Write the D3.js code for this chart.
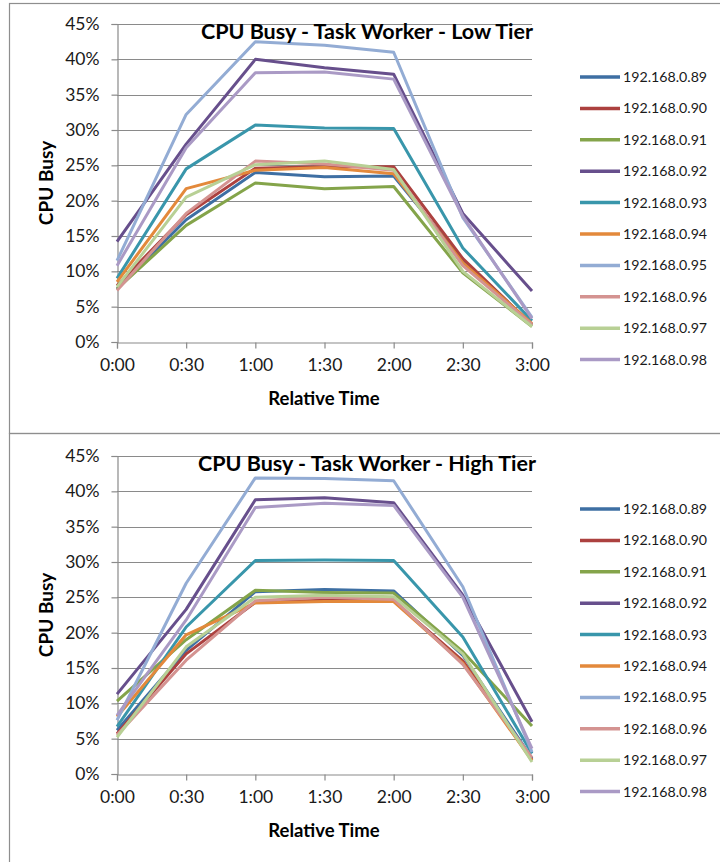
<!DOCTYPE html>
<html>
<head>
<meta charset="utf-8">
<script src="https://cdn.jsdelivr.net/npm/d3@7"></script>
<style>
body{margin:0;background:#fff;}
svg{display:block;}
text{font-family:Lato,"Open Sans",sans-serif;}
</style>
</head>
<body>
<div id="chart"></div>
<script>
//////////////////////データ//////////////////////
var timeLabels=["0:00","0:30","1:00","1:30","2:00","2:30","3:00"];
var hosts=["192.168.0.89","192.168.0.90","192.168.0.91","192.168.0.92","192.168.0.93",
           "192.168.0.94","192.168.0.95","192.168.0.96","192.168.0.97","192.168.0.98"];
var yTicks=[0,5,10,15,20,25,30,35,40,45];
//Low Tier (%)
var lowTier=[
    [7.5,17.3,24.0,23.4,23.5,11.5,2.5],
    [8.0,18.0,24.6,24.8,24.8,11.8,2.4],
    [7.5,16.5,22.5,21.7,22.0,9.8,2.2],
    [14.2,28.0,40.0,38.8,37.9,18.2,7.2],
    [9.0,24.5,30.7,30.3,30.2,13.3,3.0],
    [8.5,21.7,24.3,24.7,23.8,11.2,2.6],
    [11.5,32.2,42.5,42.0,41.0,17.6,3.5],
    [7.3,18.2,25.6,25.2,24.3,10.8,2.5],
    [7.8,20.5,25.1,25.6,24.4,10.0,2.2],
    [10.8,27.5,38.1,38.2,37.2,17.8,3.3]
];
//High Tier (%)
var highTier=[
    [6.2,17.5,25.8,26.1,25.9,16.8,2.2],
    [5.7,17.0,24.3,24.6,24.5,16.0,2.0],
    [10.3,19.0,26.0,25.7,25.6,17.3,6.8],
    [11.3,23.3,38.8,39.1,38.4,25.3,7.4],
    [6.7,20.8,30.2,30.3,30.2,19.4,2.9],
    [8.1,19.7,24.2,24.4,24.4,15.7,1.9],
    [7.6,27.0,41.9,41.8,41.5,26.5,3.1],
    [5.5,16.1,24.5,25.0,24.7,15.5,2.3],
    [5.2,18.0,25.0,25.3,25.1,17.0,1.7],
    [8.3,21.8,37.7,38.3,38.0,25.0,3.6]
];
//色
var lineColor=["#3e6fa3","#ac413f","#84a44a","#674f8c","#3996ab",
               "#e3893b","#93acd4","#d49391","#b8d095","#aa9ac5"];

//////////////////////描画//////////////////////
var W=720,H=862;
var svg=d3.select("#chart").append("svg").attr("width",W).attr("height",H);

var charts=[
    {title:"CPU Busy - Task Worker - Low Tier",data:lowTier,top:0},
    {title:"CPU Busy - Task Worker - High Tier",data:highTier,top:432}
];

charts.forEach(function(c){
    drawChart(c);
});

function drawChart(c){
    var g=svg.append("g").attr("transform","translate(0,"+c.top+")");
    //枠
    g.append("rect")
    .attr("x",9.5).attr("y",c.top==0?3.5:1.5)
    .attr("width",730).attr("height",c.top==0?430:440)
    .attr("fill","none").attr("stroke","#8e8e8e").attr("stroke-width",1.2);

    var xScale=d3.scalePoint().domain(timeLabels).range([117,532]);
    var yScale=d3.scaleLinear().domain([0,45]).range([342,24]);

    //グリッド
    g.append("g").selectAll("line")
    .data(yTicks.slice(1))
    .enter().append("line")
    .attr("x1",117).attr("x2",532)
    .attr("y1",function(d){return Math.round(yScale(d))+0.5;})
    .attr("y2",function(d){return Math.round(yScale(d))+0.5;})
    .attr("stroke","#8a8a8a").attr("stroke-width",1.2);

    //軸
    var yAxis=g.append("g").attr("transform","translate(117.5,0)")
    .call(d3.axisLeft(yScale).tickValues(yTicks).tickSize(6).tickPadding(12)
    .tickFormat(function(d){return d+"%";}));
    var xAxis=g.append("g").attr("transform","translate(0,342.5)")
    .call(d3.axisBottom(xScale).tickSize(6).tickPadding(10));
    [yAxis,xAxis].forEach(function(a){
        a.select(".domain").attr("stroke","#8a8a8a").attr("stroke-width",1.2);
        a.selectAll(".tick line").attr("stroke","#8a8a8a").attr("stroke-width",1.2);
        a.selectAll(".tick text").attr("fill","#1a1a1a").style("font-size","17.5px");
    });

    //系列
    var line=d3.line()
    .x(function(d,i){return xScale(timeLabels[i]);})
    .y(function(d){return yScale(d);});
    c.data.forEach(function(arr,n){
        g.append("path")
        .attr("d",line(arr))
        .attr("fill","none")
        .attr("stroke",lineColor[n])
        .attr("stroke-width",3)
        .attr("stroke-linejoin","round");
    });

    //タイトル
    g.append("text").attr("x",367).attr("y",39)
    .attr("text-anchor","middle").attr("font-weight","bold")
    .style("font-size","21.5px").attr("fill","#000")
    .text(c.title);
    g.append("text").attr("x",324).attr("y",405)
    .attr("text-anchor","middle").attr("font-weight","bold")
    .style("font-size","18.5px").attr("fill","#000")
    .text("Relative Time");
    g.append("text")
    .attr("transform","translate(53,183) rotate(-90)")
    .attr("text-anchor","middle").attr("font-weight","bold")
    .style("font-size","19px").attr("fill","#000")
    .text("CPU Busy");

    //凡例
    var lg=g.append("g").selectAll("g")
    .data(hosts)
    .enter().append("g")
    .attr("transform",function(d,i){return "translate(0,"+(77+i*31.4)+")";});
    lg.append("line")
    .attr("x1",580).attr("x2",620).attr("y1",0).attr("y2",0)
    .attr("stroke",function(d,i){return lineColor[i];})
    .attr("stroke-width",3.5);
    lg.append("text")
    .attr("x",623).attr("y",0).attr("dy","0.35em")
    .style("font-size","14.2px").attr("fill","#1a1a1a")
    .text(function(d){return d;});
}
</script>
</body>
</html>
